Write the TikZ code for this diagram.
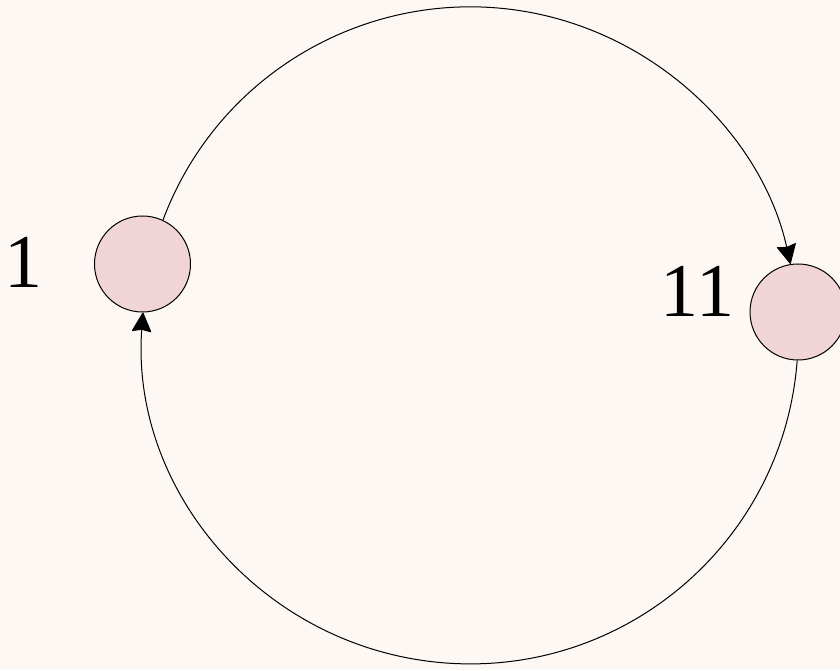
\documentclass[tikz,border=0pt]{standalone}
\usepackage{fontspec}
\setmainfont{Liberation Serif}
\usetikzlibrary{arrows.meta}
\definecolor{bgc}{RGB}{253,248,244}
\definecolor{nodefill}{RGB}{240,212,214}
\begin{document}
\begin{tikzpicture}[x=1pt,y=1pt,
  vnode/.style={circle,draw=black,line width=1pt,fill=nodefill,minimum size=96pt,inner sep=0pt},
  vlabel/.style={anchor=base,inner sep=0pt,font=\fontsize{76}{78}\selectfont},
  edgearc/.style={draw=black,line width=1pt,-{Stealth[length=20pt,width=20pt,inset=2pt,round]}}]
\fill[bgc] (0,0) rectangle (840,670);
\useasboundingbox (0,0) rectangle (840,670);
\node[vnode] (n1) at (142.5,406) {};
\node[vnode] (n11) at (798,358) {};
\node[vlabel] (l1) at (24,382) {1};
\node[vlabel] (l11) at (697.5,353) {11};
\draw[edgearc] (n1.65) arc[start angle=159.5,end angle=12.5,radius=328];
\draw[edgearc] (n11.269) arc[start angle=-4.3,end angle=-184.1,radius=328];
\end{tikzpicture}
\end{document}
